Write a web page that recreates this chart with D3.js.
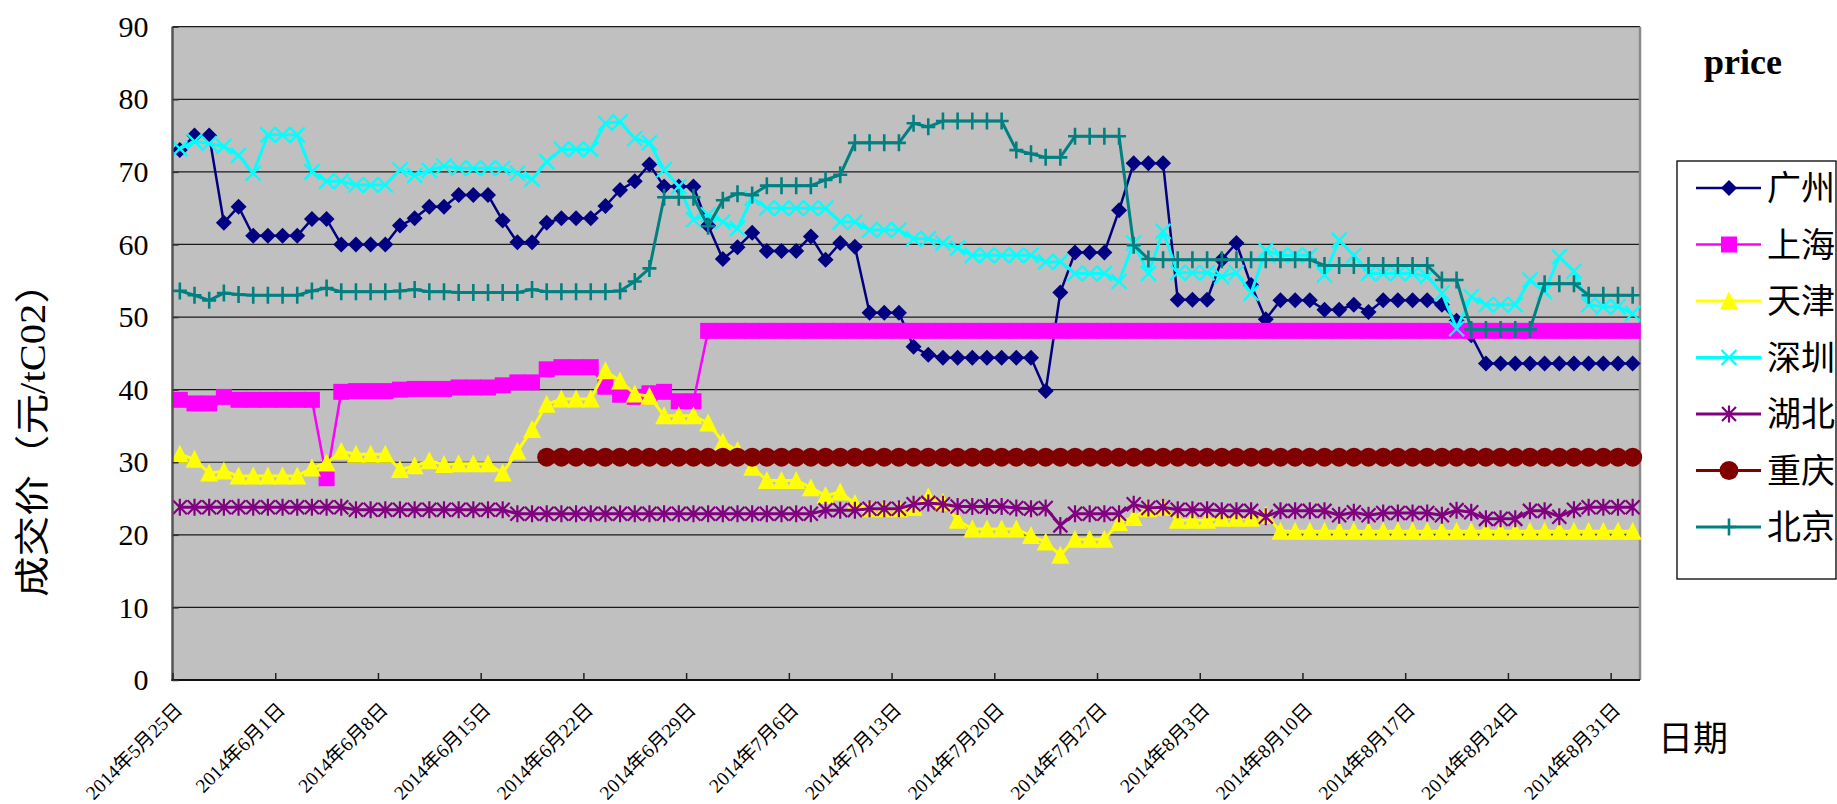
<!DOCTYPE html>
<html>
<head>
<meta charset="utf-8">
<script src="https://cdn.jsdelivr.net/npm/d3@7"></script>
<style>
  html, body { margin: 0; padding: 0; background: #ffffff; }
  svg { display: block; }
</style>
</head>
<body>
<svg id="chart" width="1837" height="804"></svg>
<script>
// ---------------- DATA ----------------
const startDate = "2014-05-25";
const dayCount = 100;
const tickLabels = ["2014年5月25日","2014年6月1日","2014年6月8日","2014年6月15日","2014年6月22日",
  "2014年6月29日","2014年7月6日","2014年7月13日","2014年7月20日","2014年7月27日",
  "2014年8月3日","2014年8月10日","2014年8月17日","2014年8月24日","2014年8月31日"];
const yTicks = [0,10,20,30,40,50,60,70,80,90];
const seriesNames = ["广州","上海","天津","深圳","湖北","重庆","北京"];

const guangzhou = [73.0,75.0,75.0,63.0,65.2,61.2,61.2,61.2,61.2,63.5,
  63.5,60.0,60.0,60.0,60.0,62.6,63.6,65.2,65.2,66.8,
  66.8,66.8,63.3,60.3,60.3,63.0,63.6,63.6,63.6,65.3,
  67.5,68.7,71.0,68.0,68.0,68.0,62.6,58.0,59.6,61.6,
  59.1,59.1,59.1,61.1,57.9,60.2,59.7,50.6,50.6,50.6,
  45.9,44.8,44.4,44.4,44.4,44.4,44.4,44.4,44.4,39.8,
  53.4,58.9,58.9,58.9,64.7,71.2,71.2,71.2,52.4,52.4,
  52.4,57.9,60.2,54.4,49.7,52.3,52.3,52.3,51.0,51.0,
  51.7,50.7,52.3,52.3,52.3,52.3,51.7,49.5,47.5,43.6,
  43.6,43.6,43.6,43.6,43.6,43.6,43.6,43.6,43.6,43.6];
const shanghai = [38.6,38.1,38.1,39.0,38.6,38.6,38.6,38.6,38.6,38.6,
  27.8,39.7,39.8,39.8,39.8,40.0,40.1,40.1,40.1,40.3,
  40.3,40.3,40.6,41.0,41.0,42.8,43.1,43.1,43.1,40.4,
  39.3,39.0,39.5,39.7,38.4,38.4,48.1,48.1,48.1,48.1,
  48.1,48.1,48.1,48.1,48.1,48.1,48.1,48.1,48.1,48.1,
  48.1,48.1,48.1,48.1,48.1,48.1,48.1,48.1,48.1,48.1,
  48.1,48.1,48.1,48.1,48.1,48.1,48.1,48.1,48.1,48.1,
  48.1,48.1,48.1,48.1,48.1,48.1,48.1,48.1,48.1,48.1,
  48.1,48.1,48.1,48.1,48.1,48.1,48.1,48.1,48.1,48.1,
  48.1,48.1,48.1,48.1,48.1,48.1,48.1,48.1,48.1,48.1];
const tianjin = [31.1,30.4,28.5,28.8,28.1,28.1,28.1,28.1,28.1,29.2,
  29.9,31.5,31.1,31.1,31.1,29.0,29.5,30.2,29.7,29.8,
  29.8,29.8,28.5,31.5,34.5,38.0,38.7,38.7,38.7,42.6,
  41.2,39.4,39.1,36.4,36.4,36.4,35.4,32.8,31.6,29.3,
  27.5,27.5,27.5,26.5,25.4,25.9,24.3,23.6,23.6,23.6,
  23.8,25.2,24.5,22.0,20.8,20.8,20.8,20.8,19.9,19.0,
  17.2,19.4,19.4,19.4,21.7,22.4,23.6,23.8,22.0,22.0,
  22.0,22.3,22.3,22.3,22.7,20.5,20.5,20.5,20.5,20.5,
  20.5,20.5,20.5,20.5,20.5,20.5,20.5,20.5,20.5,20.5,
  20.5,20.5,20.5,20.5,20.5,20.5,20.5,20.5,20.5,20.5];
const shenzhen = [73.2,74.2,73.9,73.5,72.3,69.8,75.1,75.1,75.1,70.0,
  68.7,68.7,68.2,68.2,68.2,70.3,69.5,70.2,70.8,70.5,
  70.5,70.5,70.5,69.8,69.0,71.4,73.1,73.1,73.1,76.7,
  76.9,74.6,74.0,70.3,68.0,63.4,64.1,63.1,62.2,66.4,
  65.0,65.0,65.0,65.0,65.0,63.1,63.1,62.0,62.0,62.0,
  60.8,60.8,60.2,59.5,58.5,58.5,58.5,58.5,58.5,57.6,
  57.6,56.0,56.0,56.0,54.9,60.2,56.0,61.8,56.1,56.1,
  56.1,55.6,56.1,53.3,59.2,58.5,58.5,58.5,55.8,60.6,
  58.5,56.0,56.0,56.0,56.0,55.6,53.3,48.4,52.8,51.7,
  51.7,51.7,55.1,53.5,58.3,56.3,51.7,51.4,51.4,50.5];
const hubei = [23.8,23.8,23.8,23.8,23.8,23.8,23.8,23.8,23.8,23.8,
  23.8,23.8,23.45,23.45,23.45,23.45,23.45,23.45,23.45,23.45,
  23.45,23.45,23.45,22.9,22.9,22.9,22.9,22.9,22.9,22.9,
  22.9,22.9,22.9,22.9,22.9,22.9,22.9,22.9,22.9,22.9,
  22.9,22.9,22.9,22.9,23.4,23.4,23.4,23.6,23.6,23.6,
  24.2,24.4,24.2,23.9,23.9,23.9,23.9,23.7,23.6,23.7,
  21.3,22.9,22.9,22.9,22.9,24.2,23.7,23.8,23.45,23.45,
  23.45,23.3,23.3,23.3,22.5,23.3,23.3,23.3,23.3,22.7,
  23.1,22.7,23.0,23.0,23.0,23.0,22.7,23.4,23.1,22.2,
  22.2,22.2,23.3,23.3,22.5,23.45,23.8,23.8,23.8,23.8];
const chongqing = [null,null,null,null,null,null,null,null,null,null,
  null,null,null,null,null,null,null,null,null,null,
  null,null,null,null,null,30.7,30.7,30.7,30.7,30.7,
  30.7,30.7,30.7,30.7,30.7,30.7,30.7,30.7,30.7,30.7,
  30.7,30.7,30.7,30.7,30.7,30.7,30.7,30.7,30.7,30.7,
  30.7,30.7,30.7,30.7,30.7,30.7,30.7,30.7,30.7,30.7,
  30.7,30.7,30.7,30.7,30.7,30.7,30.7,30.7,30.7,30.7,
  30.7,30.7,30.7,30.7,30.7,30.7,30.7,30.7,30.7,30.7,
  30.7,30.7,30.7,30.7,30.7,30.7,30.7,30.7,30.7,30.7,
  30.7,30.7,30.7,30.7,30.7,30.7,30.7,30.7,30.7,30.7];
const beijing = [53.6,53.0,52.3,53.3,53.1,53.0,53.0,53.0,53.0,53.6,
  54.0,53.5,53.5,53.5,53.5,53.6,53.8,53.5,53.5,53.4,
  53.4,53.4,53.4,53.4,53.8,53.5,53.5,53.5,53.5,53.5,
  53.6,54.9,56.7,66.5,66.5,66.5,62.5,66.1,67.0,66.8,
  68.1,68.1,68.1,68.1,68.9,69.6,74.0,74.0,74.0,74.0,
  76.7,76.2,77.0,77.0,77.0,77.0,77.0,73.0,72.5,72.0,
  72.0,74.9,74.9,74.9,74.9,59.9,58.0,57.9,57.9,57.9,
  57.9,57.9,57.9,57.9,57.9,57.9,57.9,57.9,57.1,57.1,
  57.1,57.1,57.1,57.1,57.1,57.1,55.1,55.1,48.3,48.3,
  48.3,48.3,48.3,54.6,54.6,54.6,53.0,53.0,53.0,53.0];

const seriesValues = [guangzhou, shanghai, tianjin, shenzhen, hubei, chongqing, beijing];

// ---------------- STYLE ----------------
const colors = ["#000080","#FF00FF","#FFFF00","#00FFFF","#800080","#800000","#008080"];
const markerTypes = ["diamond","square","triangle","x","asterisk","circle","plus"];
const lineWidths = [2.5,2.5,3,3,3,3,3];

const W = 1837, H = 804;
const plot = {left: 172.5, right: 1640, top: 26.7, bottom: 680};

const svg = d3.select("#chart");
const parse = d3.timeParse("%Y-%m-%d");
const d0 = parse(startDate);
const days = d3.timeDay.range(d0, d3.timeDay.offset(d0, dayCount));

const x = d3.scaleTime().domain([d0, d3.timeDay.offset(d0, dayCount)]).range([plot.left, plot.right]);
const xc = d => x(d3.timeHour.offset(d, 12));
const y = d3.scaleLinear().domain([0, 90]).range([plot.bottom, plot.top]);

// plot background
svg.append("rect").attr("x", plot.left).attr("y", plot.top)
  .attr("width", plot.right - plot.left).attr("height", plot.bottom - plot.top)
  .attr("fill", "#C0C0C0");

// gridlines
svg.append("g").selectAll("line").data(yTicks.filter(v => v > 0)).join("line")
  .attr("x1", plot.left).attr("x2", plot.right)
  .attr("y1", d => y(d)).attr("y2", d => y(d))
  .attr("stroke", "#1a1a1a").attr("stroke-width", 1.2);

// right border
svg.append("line").attr("x1", plot.right).attr("x2", plot.right)
  .attr("y1", plot.top).attr("y2", plot.bottom)
  .attr("stroke", "#8a8a8a").attr("stroke-width", 2.5);

// markers
function markerPath(type) {
  switch (type) {
    case "diamond": return "M0,-8L8,0L0,8L-8,0Z";
    case "square": return "M-8,-8H8V8H-8Z";
    case "triangle": return "M0,-9.5L9,8.5L-9,8.5Z";
    case "x": return "M-7.5,-7.5L7.5,7.5M-7.5,7.5L7.5,-7.5";
    case "asterisk": return "M-7,-7L7,7M-7,7L7,-7M0,-8.5L0,8.5";
    case "plus": return "M-7,0L7,0M0,-8.5L0,8.5";
    case "circle": return d3.arc()({innerRadius: 0, outerRadius: 9.5, startAngle: 0, endAngle: 2 * Math.PI});
  }
}
function drawMarker(g, type, color) {
  const stroked = (type === "x" || type === "asterisk" || type === "plus");
  g.append("path").attr("d", markerPath(type))
    .attr("fill", stroked ? "none" : color)
    .attr("stroke", stroked ? color : "none")
    .attr("stroke-width", type === "plus" ? 2.6 : 2.2);
}

const dataLayer = svg.append("g");
seriesValues.forEach((vals, si) => {
  const pts = days.map((d, i) => ({d, v: vals[i]})).filter(p => p.v !== null);
  const line = d3.line().x(p => xc(p.d)).y(p => y(p.v));
  const g = dataLayer.append("g");
  g.append("path").attr("d", line(pts)).attr("fill", "none")
    .attr("stroke", colors[si]).attr("stroke-width", lineWidths[si])
    .attr("stroke-linejoin", "round");
  pts.forEach(p => {
    const mg = g.append("g").attr("transform", `translate(${xc(p.d)},${y(p.v)})`);
    drawMarker(mg, markerTypes[si], colors[si]);
  });
});

// axes lines
svg.append("line").attr("x1", plot.left).attr("x2", plot.left)
  .attr("y1", plot.top).attr("y2", plot.bottom + 1)
  .attr("stroke", "#555555").attr("stroke-width", 2.5);
svg.append("line").attr("x1", plot.left - 1).attr("x2", plot.right)
  .attr("y1", plot.bottom).attr("y2", plot.bottom)
  .attr("stroke", "#111111").attr("stroke-width", 2.2);

// y axis ticks and labels
const yAxis = d3.axisLeft(y).tickValues(yTicks).tickSize(-6).tickPadding(24).tickFormat(d3.format("d"));
const yg = svg.append("g").attr("transform", `translate(${plot.left},0)`).call(yAxis);
yg.attr("font-family", null);
yg.select(".domain").remove();
yg.selectAll(".tick line").attr("stroke", "#333").attr("stroke-width", 1.5);
yg.selectAll(".tick text").attr("font-family", "'Liberation Serif', 'DejaVu Serif', serif")
  .attr("font-size", 30).attr("fill", "#000");

// x axis ticks and labels
const tickDates = tickLabels.map((_, i) => d3.timeDay.offset(d0, i * 7));
const xAxis = d3.axisBottom(x).tickValues(tickDates).tickSize(-7).tickFormat("");
const xg = svg.append("g").attr("transform", `translate(0,${plot.bottom})`).call(xAxis);
xg.select(".domain").remove();
xg.selectAll(".tick line").attr("stroke", "#222").attr("stroke-width", 1.5);

svg.append("g").selectAll("text").data(tickDates).join("text")
  .attr("transform", (d, i) => `translate(${x(d) + 11},${plot.bottom + 31}) rotate(-45)`)
  .attr("text-anchor", "end")
  .attr("font-family", "'Liberation Serif', 'Noto Sans CJK SC', serif")
  .attr("font-size", 19.5).attr("fill", "#000")
  .text((d, i) => tickLabels[i]);

// y axis title
svg.append("text")
  .attr("transform", "translate(45,430) rotate(-90)")
  .attr("text-anchor", "middle")
  .attr("font-family", "'Liberation Serif', 'Noto Sans CJK SC', serif")
  .attr("font-size", 35).attr("fill", "#000")
  .attr("textLength", 334).attr("lengthAdjust", "spacingAndGlyphs")
  .text("成交价（元/tC02）");

// x axis title
svg.append("text").attr("x", 1693).attr("y", 751)
  .attr("text-anchor", "middle")
  .attr("font-family", "'Noto Sans CJK SC', sans-serif")
  .attr("font-size", 35).attr("fill", "#000")
  .text("日期");

// chart title (price)
svg.append("text").attr("x", 1743).attr("y", 74)
  .attr("text-anchor", "middle")
  .attr("font-family", "'Liberation Serif', serif")
  .attr("font-weight", "bold")
  .attr("font-size", 36).attr("fill", "#000")
  .text("price");

// legend
const legend = {left: 1677, top: 161, right: 1836, bottom: 579, firstY: 188, step: 56.5};
svg.append("rect").attr("x", legend.left).attr("y", legend.top)
  .attr("width", legend.right - legend.left).attr("height", legend.bottom - legend.top)
  .attr("fill", "#fff").attr("stroke", "#000").attr("stroke-width", 1.3);
seriesNames.forEach((name, si) => {
  const ly = legend.firstY + si * legend.step;
  const g = svg.append("g");
  g.append("line").attr("x1", 1696).attr("x2", 1761).attr("y1", ly).attr("y2", ly)
    .attr("stroke", colors[si]).attr("stroke-width", lineWidths[si]);
  const mg = g.append("g").attr("transform", `translate(1729,${ly})`);
  drawMarker(mg, markerTypes[si], colors[si]);
  g.append("text").attr("x", 1767).attr("y", ly).attr("dy", "0.36em")
    .attr("font-family", "'Noto Sans CJK SC', sans-serif")
    .attr("font-size", 34).attr("fill", "#000")
    .text(name);
});
</script>
</body>
</html>
